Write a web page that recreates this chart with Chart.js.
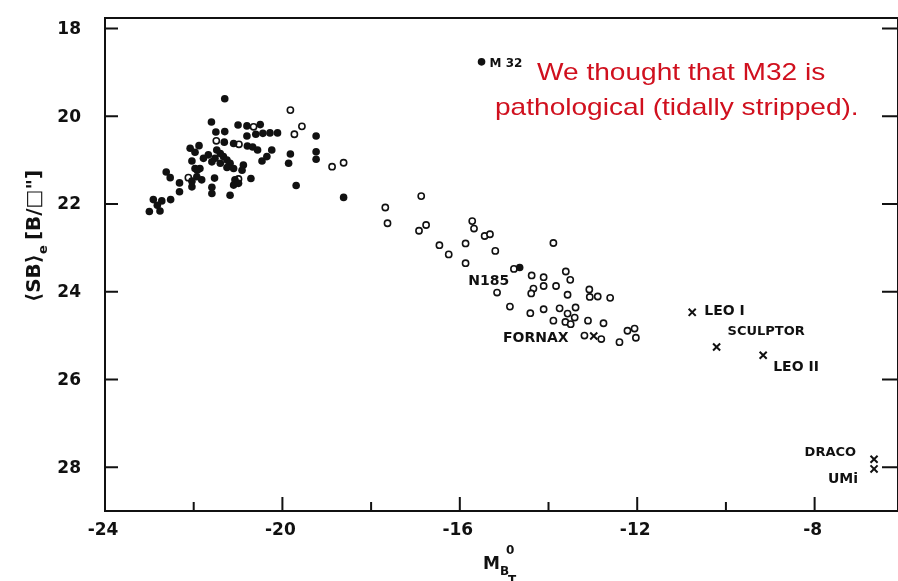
<!DOCTYPE html>
<html>
<head>
<meta charset="utf-8">
<script src="https://cdn.jsdelivr.net/npm/chart.js@4.4.1/dist/chart.umd.min.js"></script>
<style>
  html, body { margin: 0; padding: 0; background: #fff; }
  #wrap { width: 898px; height: 581px; }
</style>
</head>
<body>
<div id="wrap"><canvas id="chart"></canvas></div>
<script>
// ---- ticks ----
const xMajor = [-24, -20, -16, -12, -8];
const xMinor = [-22, -18, -14, -10];
const yMajor = [18, 20, 22, 24, 26, 28];

// ---- filled dots (ellipticals) ----
const ellX = [-21.3, -21.6, -21.0, -20.8, -20.5, -21.5, -21.3, -20.6, -20.44, -20.28, -20.11, -19.24, -20.8, -21.31, -21.1,
  -20.79, -20.67, -20.56, -20.24, -22.08, -21.88, -19.82, -19.24, -19.24, -20.46, -20.35, -19.86, -22.04, -20.88, -20.91,
  -21.97, -21.86, -22.62, -22.53, -21.93, -21.82, -21.53, -20.71, -22.32, -22.32, -22.04, -22.04, -21.59, -21.59, -21.18,
  -19.69, -18.62, -22.91, -22.72, -22.52, -23.0, -22.76, -22.82,
  -21.97, -21.67, -21.52, -21.4, -21.33, -21.25, -21.18, -21.4, -21.59, -21.25, -21.1, -21.48, -21.78, -21.07, -21.1, -20.99, -21.92,
  -15.51, -14.65];
const ellY = [19.6, 20.13, 20.2, 20.22, 20.19, 20.36, 20.35, 20.41, 20.39, 20.38, 20.38, 20.45, 20.45, 20.59, 20.62,
  20.68, 20.7, 20.77, 20.77, 20.73, 20.67, 20.86, 20.81, 20.98, 21.02, 20.92, 21.07, 21.02, 21.11, 21.23,
  21.19, 21.19, 21.27, 21.4, 21.38, 21.45, 21.41, 21.42, 21.52, 21.72, 21.61, 21.48, 21.62, 21.76, 21.8,
  21.58, 21.85, 21.9, 21.93, 21.9, 22.17, 22.16, 22.03,
  20.82, 20.88, 20.96, 20.85, 20.92, 21.0, 21.07, 21.07, 21.04, 21.17, 21.19, 20.77, 20.96, 21.45, 21.57, 21.53, 21.23,
  18.76, 23.45];

// ---- open circles ----
const openX = [-19.82, -19.56, -20.65, -19.73, -21.49, -20.98, -22.12, -20.99, -18.88, -18.62,
  -16.87, -17.68, -17.63, -16.92, -16.76, -15.72, -15.68, -15.44, -15.32, -16.46, -16.25, -15.87, -15.87, -15.2, -13.89,
  -14.78, -14.38, -14.11, -13.61, -13.51, -14.34, -14.39, -14.11, -13.83, -15.16, -13.57, -13.08, -13.07, -12.89, -12.61,
  -14.87, -14.41, -14.11, -13.75, -13.39, -13.57, -13.41, -13.89, -13.62, -13.5, -13.11, -12.76, -13.19, -12.81, -12.4,
  -12.22, -12.06, -12.03];
const openY = [19.86, 20.23, 20.24, 20.41, 20.56, 20.64, 21.4, 21.43, 21.15, 21.06,
  21.82, 22.08, 22.44, 22.61, 22.48, 22.39, 22.56, 22.73, 22.69, 22.94, 23.15, 22.9, 23.35, 23.07, 22.89,
  23.48, 23.63, 23.67, 23.54, 23.73, 23.93, 24.04, 23.87, 23.87, 24.02, 24.07, 23.95, 24.12, 24.11, 24.14,
  24.34, 24.49, 24.4, 24.38, 24.36, 24.5, 24.59, 24.66, 24.69, 24.74, 24.66, 24.72, 25.0, 25.08, 25.15,
  24.89, 24.84, 25.05];

// ---- crosses (dwarf spheroidals) ----
const dsphNames = ["FORNAX", "LEO I", "SCULPTOR", "LEO II", "DRACO", "UMi"];
const dsphX = [-12.98, -10.76, -10.21, -9.16, -6.66, -6.66];
const dsphY = [25.01, 24.47, 25.26, 25.45, 27.82, 28.04];

// text labels tied to data coordinates
const notes = [
  { t: "M 32", x: -15.51, y: 18.76, dx: 8, dy: 2, align: "left", size: 12 },
  { t: "N185", x: -14.65, y: 23.45, dx: -31, dy: 14, align: "center", size: 14 },
  { t: "FORNAX", x: -12.98, y: 25.01, dx: -58, dy: 2, align: "center", size: 14 },
  { t: "LEO I", x: -10.76, y: 24.47, dx: 12, dy: -1, align: "left", size: 14 },
  { t: "SCULPTOR", x: -10.21, y: 25.26, dx: 11, dy: -15, align: "left", size: 13 },
  { t: "LEO II", x: -9.16, y: 25.45, dx: 10, dy: 12, align: "left", size: 14 },
  { t: "DRACO", x: -6.66, y: 27.82, dx: -18, dy: -7, align: "right", size: 13 },
  { t: "UMi", x: -6.66, y: 28.04, dx: -16, dy: 10, align: "right", size: 14 }
];

const pts = (xs, ys) => xs.map((x, i) => ({ x, y: ys[i] }));

const frame = {
  id: "frame",
  afterDraw(chart) {
    const { ctx, chartArea: a, scales } = chart;
    const sx = scales.x, sy = scales.y;
    ctx.save();
    ctx.strokeStyle = "#111";
    ctx.lineWidth = 2;
    ctx.strokeRect(a.left, a.top, a.right - a.left, a.bottom - a.top);
    ctx.beginPath();
    yMajor.forEach(v => {
      const p = sy.getPixelForValue(v);
      ctx.moveTo(a.left, p); ctx.lineTo(a.left + 13, p);
      ctx.moveTo(a.right, p); ctx.lineTo(a.right - 16, p);
    });
    xMajor.forEach(v => {
      const p = sx.getPixelForValue(v);
      ctx.moveTo(p, a.bottom); ctx.lineTo(p, a.bottom - 14);
    });
    xMinor.forEach(v => {
      const p = sx.getPixelForValue(v);
      ctx.moveTo(p, a.bottom); ctx.lineTo(p, a.bottom - 9);
    });
    ctx.stroke();

    // tick labels
    ctx.fillStyle = "#111";
    ctx.font = "bold 17px 'DejaVu Sans'";
    ctx.textBaseline = "middle";
    ctx.textAlign = "right";
    yMajor.forEach(v => ctx.fillText(String(v), a.left - 24, sy.getPixelForValue(v) + 1));
    ctx.textAlign = "center";
    xMajor.forEach(v => ctx.fillText("-" + Math.abs(v), sx.getPixelForValue(v) - 2, a.bottom + 20));

    // point labels
    notes.forEach(n => {
      ctx.font = "bold " + n.size + "px 'DejaVu Sans'";
      ctx.textAlign = n.align;
      ctx.fillText(n.t, sx.getPixelForValue(n.x) + n.dx, sy.getPixelForValue(n.y) + n.dy);
    });

    // red remark (the scan is stretched sideways)
    ctx.save();
    ctx.fillStyle = "#d0101e";
    ctx.font = "24px 'Liberation Sans'";
    ctx.textAlign = "left";
    ctx.scale(1.17, 1);
    ctx.fillText("We thought that M32 is", 537 / 1.17, 73);
    ctx.fillText("pathological (tidally stripped).", 495 / 1.17, 108);
    ctx.restore();

    // x title  M_{B_T}^0
    ctx.fillStyle = "#111";
    ctx.textBaseline = "alphabetic";
    ctx.textAlign = "left";
    ctx.font = "bold 17px 'DejaVu Sans'";
    ctx.fillText("M", 483, 569);
    ctx.font = "bold 12px 'DejaVu Sans'";
    ctx.fillText("B", 500, 575);
    ctx.fillText("0", 506, 554);
    ctx.fillText("T", 508, 584);

    // y title  <SB>_e [B/□"]
    ctx.translate(40, 230);
    ctx.rotate(-Math.PI / 2);
    ctx.font = "bold 20px 'DejaVu Sans'";
    ctx.fillText("⟨SB⟩", -72, 0);
    const w = ctx.measureText("⟨SB⟩").width;
    ctx.font = "bold 13px 'DejaVu Sans'";
    ctx.fillText("e", -72 + w, 7);
    ctx.font = "bold 20px 'DejaVu Sans'";
    ctx.fillText("[B/□\"]", -72 + w + 14, 0);
    ctx.restore();
  }
};

new Chart(document.getElementById("chart"), {
  type: "scatter",
  data: {
    datasets: [
      {
        label: "filled",
        data: pts(ellX, ellY),
        pointStyle: "circle",
        pointRadius: 3.8,
        backgroundColor: "#111",
        borderColor: "#111",
        borderWidth: 0
      },
      {
        label: "open",
        data: pts(openX, openY),
        pointStyle: "circle",
        pointRadius: 3.1,
        backgroundColor: "#fff",
        borderColor: "#111",
        borderWidth: 1.6
      },
      {
        label: "dSph",
        data: pts(dsphX, dsphY),
        pointStyle: "crossRot",
        pointRadius: 5,
        borderColor: "#111",
        borderWidth: 2
      }
    ]
  },
  options: {
    responsive: true,
    maintainAspectRatio: false,
    animation: false,
    layout: { autoPadding: false, padding: { top: 18, right: 0, left: 0, bottom: 0 } },
    plugins: { legend: { display: false }, tooltip: { enabled: false } },
    scales: {
      x: {
        type: "linear",
        min: -24,
        max: -6.12,
        grid: { display: false },
        border: { display: false },
        ticks: { display: false },
        afterBuildTicks: s => { s.ticks = xMajor.map(v => ({ value: v })); },
        afterFit: s => { s.height = 70; }
      },
      y: {
        type: "linear",
        reverse: true,
        min: 17.76,
        max: 29,
        grid: { display: false },
        border: { display: false },
        ticks: { display: false },
        afterBuildTicks: s => { s.ticks = yMajor.map(v => ({ value: v })); },
        afterFit: s => { s.width = 105; }
      }
    }
  },
  plugins: [frame]
});
</script>
</body>
</html>
